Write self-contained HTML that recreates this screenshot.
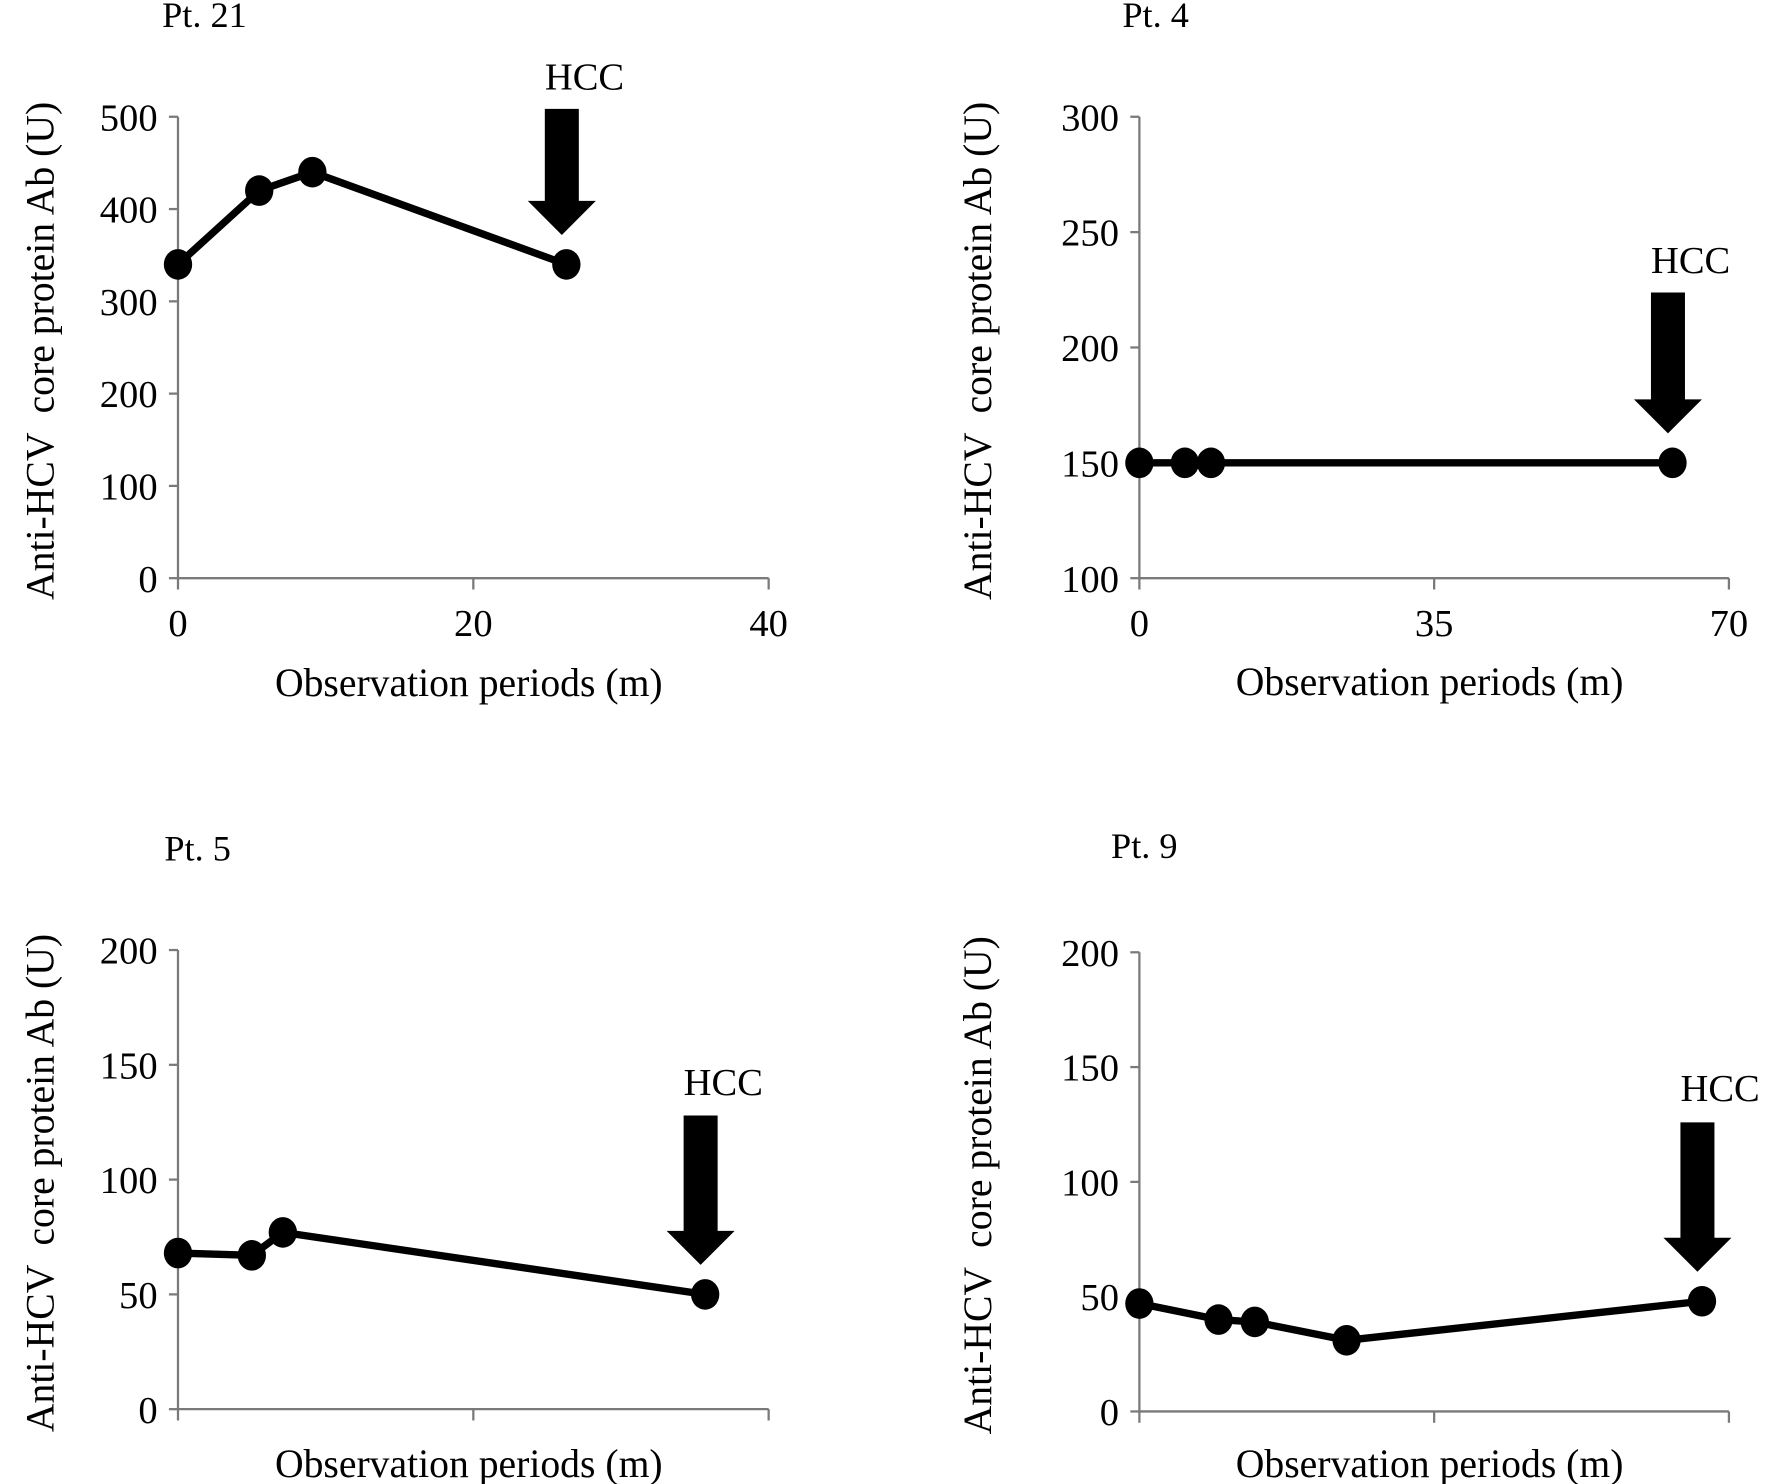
<!DOCTYPE html>
<html><head><meta charset="utf-8"><style>
html,body{margin:0;padding:0;background:#fff;}
svg{display:block;}
text{font-family:"Liberation Serif",serif;fill:#000;white-space:pre;}
</style></head><body>
<svg id="fig" width="1772" height="1484" viewBox="0 0 1563 1309" preserveAspectRatio="none" xmlns="http://www.w3.org/2000/svg"></svg>
<script>
// Panel data
const p21X = [0, 5.5, 9.1, 26.3];
const p21Y = [340, 420, 440, 340];
const p4X = [0, 5.4, 8.5, 63.3];
const p4Y = [150, 150, 150, 150];
const p5X = [0, 5, 7.1, 35.7];
const p5Y = [68, 67, 77, 50];
const p9X = [0, 9.4, 13.7, 24.6, 66.8];
const p9Y = [47, 40, 39, 31, 48];
const p21YTicks = [0, 100, 200, 300, 400, 500];
const p4YTicks = [100, 150, 200, 250, 300];
const p5YTicks = [0, 50, 100, 150, 200];
const p9YTicks = [0, 50, 100, 150, 200];
const p21XTicks = [0, 20, 40];
const p4XTicks = [0, 35, 70];
const p5XTicks = [0, 20, 40];
const p9XTicks = [0, 35, 70];
const p21XLabels = ["0", "20", "40"];
const p4XLabels = ["0", "35", "70"];
const p5XLabels = [];
const p9XLabels = [];

const NS = "http://www.w3.org/2000/svg";
const svg = document.getElementById("fig");
function mk(tag, attrs, parent) {
  const e = document.createElementNS(NS, tag);
  for (const k in attrs) e.setAttribute(k, attrs[k]);
  (parent || svg).appendChild(e);
  return e;
}

const panels = [
  {id:"pt21", title:"Pt. 21", tx:143, ty:24, x0:157, x1:678, y0:510, y1:103, xd:[0,40], yd:[0,500],
   xs:p21X, ys:p21Y, yt:p21YTicks, xt:p21XTicks, xl:p21XLabels, ytitleX:35, xtitleY:614, arrowIdx:3, arrowTop:96, hccY:79},
  {id:"pt4", title:"Pt. 4", tx:990, ty:24, x0:1005, x1:1525, y0:510, y1:103, xd:[0,70], yd:[100,300],
   xs:p4X, ys:p4Y, yt:p4YTicks, xt:p4XTicks, xl:p4XLabels, ytitleX:862, xtitleY:613, arrowIdx:3, arrowTop:258, hccY:241},
  {id:"pt5", title:"Pt. 5", tx:145, ty:759, x0:157, x1:678, y0:1243, y1:838, xd:[0,40], yd:[0,200],
   xs:p5X, ys:p5Y, yt:p5YTicks, xt:p5XTicks, xl:p5XLabels, ytitleX:35, xtitleY:1303, arrowIdx:3, arrowTop:984, hccY:966},
  {id:"pt9", title:"Pt. 9", tx:980, ty:757, x0:1005, x1:1525, y0:1245, y1:840, xd:[0,70], yd:[0,200],
   xs:p9X, ys:p9Y, yt:p9YTicks, xt:p9XTicks, xl:p9XLabels, ytitleX:862, xtitleY:1303, arrowIdx:4, arrowTop:990, hccY:971}
];

panels.forEach(p => {
  const g = mk("g", {});
  
  
  const sx = v => p.x0 + (v - p.xd[0]) / (p.xd[1] - p.xd[0]) * (p.x1 - p.x0);
  const sy = v => p.y0 - (v - p.yd[0]) / (p.yd[1] - p.yd[0]) * (p.y0 - p.y1);

  const t = mk("text", {x:p.tx, y:p.ty, "font-size":32}, g);
  t.textContent = p.title;
  
  

  const ya = mk("line", {x1:p.x0, y1:p.y0, x2:p.x0, y2:p.y1, stroke:"#7a7a7a", "stroke-width":2}, g);
  
  
  const xa = mk("line", {x1:p.x0, y1:p.y0, x2:p.x1, y2:p.y0, stroke:"#7a7a7a", "stroke-width":2}, g);
  
  

  p.yt.forEach(v => {
    const y = sy(v);
    mk("line", {x1:p.x0-8, y1:y, x2:p.x0, y2:y, stroke:"#7a7a7a", "stroke-width":2}, g);
    const l = mk("text", {x:p.x0-18, y:y+12, "font-size":34, "text-anchor":"end"}, g);
    l.textContent = v;
    
    
  });
  p.xt.forEach((v, i) => {
    const x = sx(v);
    mk("line", {x1:x, y1:p.y0, x2:x, y2:p.y0+10, stroke:"#7a7a7a", "stroke-width":2}, g);
    if (p.xl[i] !== undefined) {
      const l = mk("text", {x:x, y:p.y0+51, "font-size":34, "text-anchor":"middle"}, g);
      l.textContent = p.xl[i];
      
      
    }
  });

  const xt = mk("text", {x:(p.x0+p.x1)/2-4, y:p.xtitleY, "font-size":35, "text-anchor":"middle"}, g);
  xt.textContent = "Observation periods (m)";
  
  
  const ycy = (p.y0 + p.y1) / 2 + 3;
  const yt = mk("text", {x:0, y:0, "font-size":35, "text-anchor":"middle", transform:`translate(${p.ytitleX+12},${ycy}) rotate(-90)`}, g);
  yt.textContent = "Anti-HCV  core protein Ab (U)";
  
  

  const pts = p.xs.map((v, i) => sx(v) + "," + sy(p.ys[i])).join(" ");
  const line = mk("polyline", {points:pts, fill:"none", stroke:"#000", "stroke-width":6.5, "stroke-linejoin":"round"}, g);
  
  
  p.xs.forEach((v, i) => {
    const c = mk("ellipse", {cx:sx(v), cy:sy(p.ys[i]), rx:12.5, ry:13.5, fill:"#000"}, g);
    
    
  });

  const ax = sx(p.xs[p.arrowIdx]) - 4;
  const tip = sy(p.ys[p.arrowIdx]) - 26;
  const headTop = tip - 30;
  const arrow = mk("polygon", {points:`${ax-15},${p.arrowTop} ${ax+15},${p.arrowTop} ${ax+15},${headTop} ${ax+30},${headTop} ${ax},${tip} ${ax-30},${headTop} ${ax-15},${headTop}`, fill:"#000"}, g);
  
  
  const h = mk("text", {x:ax+20, y:p.hccY, "font-size":34, "text-anchor":"middle"}, g);
  h.textContent = "HCC";
  
  
});
</script>
</body></html>
